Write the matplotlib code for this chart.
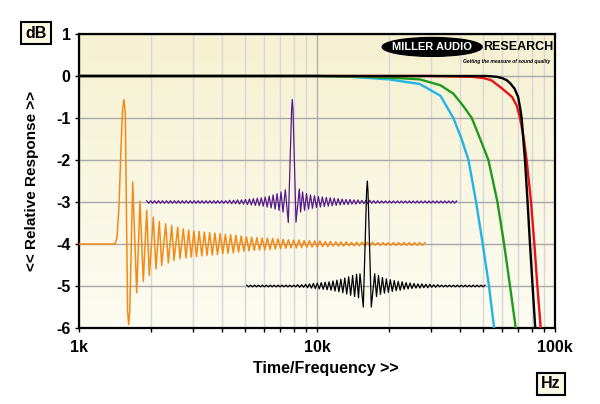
import numpy as np
import matplotlib.pyplot as plt
from matplotlib.patches import Ellipse

plt.rcParams['font.family'] = ['Liberation Sans', 'DejaVu Sans']
plt.rcParams['axes.unicode_minus'] = False

# frequency responses, Hz / dB
cyan_hz = [1000, 10000, 14000, 20000, 27000, 33000, 37400, 40500, 43300, 46600, 49700, 52800, 55500, 58000]
cyan_db = [0, 0, -0.02, -0.08, -0.19, -0.47, -1.0, -1.5, -2.0, -3.0, -4.0, -5.0, -6.0, -6.8]
green_hz = [1000, 10000, 16000, 22000, 27000, 33000, 37400, 41000, 44700, 48500, 52500, 57300, 61100, 64700, 68400, 72000]
green_db = [0, 0, -0.02, -0.05, -0.08, -0.22, -0.42, -0.7, -1.0, -1.5, -2.0, -3.0, -4.0, -5.0, -6.0, -7.0]
red_hz = [1000, 30000, 45000, 50000, 54000, 60000, 66000, 69000, 71300, 74000, 76000, 79300, 81900, 84300, 87100, 90000]
red_db = [0, 0, -0.02, -0.05, -0.1, -0.3, -0.5, -0.7, -1.0, -1.5, -2.0, -3.0, -4.0, -5.0, -6.0, -7.0]
black_hz = [1000, 52000, 57000, 60000, 62700, 65000, 67600, 70000, 71300, 72400, 74800, 76700, 78500, 80500, 82600, 84500]
black_db = [0, 0, -0.02, -0.05, -0.1, -0.18, -0.3, -0.5, -0.75, -1.0, -2.0, -3.0, -4.0, -5.0, -6.0, -7.0]

y_ticks = [-6, -5, -4, -3, -2, -1, 0, 1]
y_labels = ['-6', '-5', '-4', '-3', '-2', '-1', '0', '1']
x_ticks = [1000, 10000, 100000]
x_labels = ['1k', '10k', '100k']

# impulse responses on a linear time overlay (us across the plot width)
window_us = 476

orange_base = -4
orange_onset_t = [0, 36, 38, 40, 42, 43.6]
orange_onset_v = [0, 0, 0.15, 0.9, 2.3, 3.2]
orange_core_t = [45.0, 46.3, 48.6, 49.7, 50.8, 53.7, 57.7, 61.0, 64.3, 67.7, 70.3, 74.3, 77.0,
                 80.3, 82.7, 86.7, 89.3, 92.7, 95.0, 98.7, 101.0, 104.3]
orange_core_v = [3.44, 3.1, -1.6, -1.92, -1.6, 1.48, -1.16, 1.02, -0.89, 0.80, -0.75, 0.64, -0.59,
                 0.54, -0.51, 0.48, -0.45, 0.44, -0.39, 0.40, -0.35, 0.36]
orange_tail = ([0.33, 0.31, 0.30, 0.28, 0.27, 0.26, 0.25, 0.23, 0.22, 0.21, 0.19,
                0.17, 0.16, 0.15, 0.14, 0.14, 0.13, 0.12, 0.11, 0.10, 0.09, 0.09,
                0.08, 0.08, 0.07, 0.07, 0.06, 0.06, 0.05, 0.05, 0.05, 0.04]
               + [0.04] * 4 + [0.03] * 10)
orange_tail_span = (107, 346)

purple_base = -3
purple_pre = ([0.03] * 20 + [0.03, 0.04, 0.04, 0.05, 0.05, 0.06, 0.07, 0.08,
                             0.09, 0.10, 0.12, 0.14, 0.17, 0.20, 0.24])
purple_pre_span = (67.7, 204)
purple_core_t = [206.3, 209.3, 212.6, 213.3, 214.0, 217.0, 220.3]
purple_core_v = [0.29, -0.49, 2.2, 2.44, 2.2, -0.48, 0.31]
purple_post = ([0.24, 0.20, 0.17, 0.15, 0.13, 0.12, 0.11, 0.10, 0.09, 0.08, 0.07,
                0.06, 0.06, 0.05, 0.05, 0.04, 0.04, 0.04, 0.03, 0.03] + [0.025] * 20)
purple_post_span = (221.6, 377.7)

black_base = -5
black_pre = ([0.02] * 13 + [0.03, 0.03, 0.04, 0.05, 0.06, 0.07, 0.08, 0.09,
                            0.10, 0.12, 0.14, 0.16, 0.19, 0.22, 0.25, 0.28])
black_pre_span = (167.7, 279.5)
black_core_t = [281.0, 284.3, 287.6, 288.3, 289.0, 292.3, 295.7]
black_core_v = [0.29, -0.50, 2.25, 2.50, 2.25, -0.50, 0.29]
black_post = ([0.25, 0.20, 0.17, 0.15, 0.13, 0.11, 0.10, 0.08, 0.07, 0.06, 0.05,
               0.05, 0.04, 0.04, 0.03, 0.03] + [0.02] * 12)
black_post_span = (297.5, 406)


def ringing(span, amps, first):
    # one peak and one trough per cycle, evenly spread over the span
    t = np.linspace(span[0], span[1], 2 * len(amps))
    v = []
    for a in amps:
        v += [first * a, -first * a]
    return list(t), v


fig = plt.figure(figsize=(6, 4.04), dpi=100)
ax = fig.add_axes([79 / 600, 76 / 404, 476 / 600, 294 / 404])
ax.set_xscale('log')

# cream background, a bit yellower at the top
grad = np.linspace(0, 1, 256).reshape(-1, 1)
cmap = plt.matplotlib.colors.LinearSegmentedColormap.from_list('bg', ['#fdfcf2', '#f6f1d1'])
ax.imshow(grad, extent=[0, 1, 0, 1], transform=ax.transAxes, aspect='auto',
          cmap=cmap, origin='lower', zorder=0)

ax.set_xlim(1000, 100000)
ax.set_ylim(-6, 1)

ax.set_xticks(x_ticks)
ax.set_xticklabels(x_labels)
ax.set_xticks([k * d for d in (1000, 10000) for k in range(2, 10)], minor=True)
ax.set_xticklabels([], minor=True)
ax.set_yticks(y_ticks)
ax.set_yticklabels(y_labels)
ax.tick_params(which='both', direction='out', length=3, width=1, color='black')
ax.tick_params(axis='x', pad=6)
ax.tick_params(axis='y', pad=3)
for lab in ax.get_xticklabels() + ax.get_yticklabels():
    lab.set_fontsize(11.5)
    lab.set_fontweight('bold')

ax.grid(which='minor', axis='x', color='#d8d8d8', lw=1)
ax.grid(which='major', axis='x', color='#b0b0b0', lw=1)
ax.grid(which='major', axis='y', color='#a8a8a8', lw=1)
ax.set_axisbelow(True)
for s in ax.spines.values():
    s.set_linewidth(1.6)
    s.set_color('black')

ax.plot(cyan_hz, cyan_db, color='#22b4e6', lw=1.7, zorder=3)
ax.plot(green_hz, green_db, color='#1f9a1c', lw=1.7, zorder=3)
ax.plot(red_hz, red_db, color='#e61414', lw=1.7, zorder=3)
ax.plot(black_hz, black_db, color='black', lw=1.7, zorder=4)

# impulse overlay
ax2 = ax.twiny()
ax2.set_xlim(0, window_us)
ax2.set_axis_off()

t_tail, v_tail = ringing(orange_tail_span, orange_tail, -1)
t = orange_onset_t + orange_core_t + t_tail
v = orange_onset_v + orange_core_v + v_tail
ax2.plot(t, orange_base + np.array(v), color='#f38a18', lw=1.1)

t_pre, v_pre = ringing(purple_pre_span, purple_pre, 1)
t_post, v_post = ringing(purple_post_span, purple_post, -1)
t = t_pre + purple_core_t + t_post
v = v_pre + purple_core_v + v_post
ax2.plot(t, purple_base + np.array(v), color='#561a8a', lw=0.9)

t_pre, v_pre = ringing(black_pre_span, black_pre, 1)
t_post, v_post = ringing(black_post_span, black_post, -1)
t = t_pre + black_core_t + t_post
v = v_pre + black_core_v + v_post
ax2.plot(t, black_base + np.array(v), color='black', lw=0.9)

# logo
ax.add_patch(Ellipse((0.742, 0.956), 0.21, 0.064, transform=ax.transAxes,
                     facecolor='black', edgecolor='black', zorder=5))
ax.text(0.742, 0.956, 'MILLER AUDIO', transform=ax.transAxes, ha='center', va='center',
        color='white', fontsize=8, fontweight='bold', zorder=6)
ax.text(0.848, 0.956, 'RESEARCH', transform=ax.transAxes, ha='left', va='center',
        color='black', fontsize=9, fontweight='bold', zorder=6)
ax.text(0.99, 0.908, 'Getting the measure of sound quality', transform=ax.transAxes,
        ha='right', va='center', color='black', fontsize=3.6, fontweight='bold',
        style='italic', zorder=6)

box = dict(boxstyle='square,pad=0.25', facecolor='#fbf8e4', edgecolor='black', lw=1.5)
fig.text(36 / 600, 1 - 33 / 404, 'dB', ha='center', va='center', fontsize=11.5,
         fontweight='bold', bbox=box)
fig.text(551 / 600, 1 - 384 / 404, 'Hz', ha='center', va='center', fontsize=11.5,
         fontweight='bold', bbox=box)
fig.text(32 / 600, 1 - 181 / 404, '<< Relative Response >>', rotation=90, ha='center',
         va='center', fontsize=11, fontweight='bold')
fig.text(326 / 600, 1 - 369 / 404, 'Time/Frequency >>', ha='center', va='center',
         fontsize=11.5, fontweight='bold')

fig.savefig('out.png', dpi=100, facecolor='white')
